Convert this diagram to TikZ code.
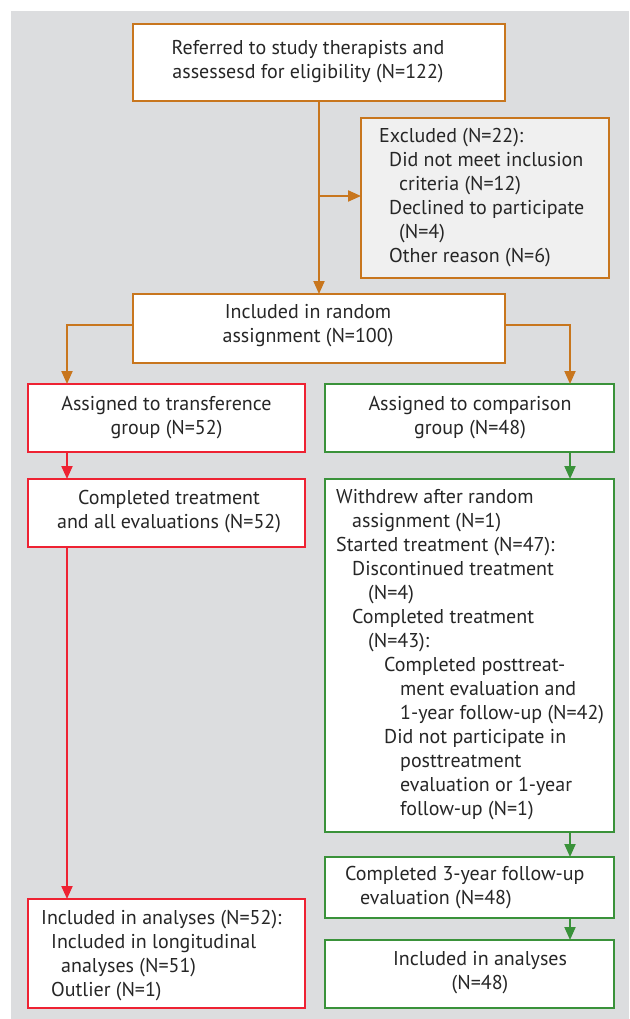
\documentclass[tikz,border=0pt]{standalone}
\usepackage{fontspec}
\setmainfont{PT Sans}
\usetikzlibrary{arrows.meta}
\definecolor{bggray}{HTML}{DCDDDF}
\definecolor{exfill}{HTML}{F0F0F0}
\definecolor{corange}{HTML}{C8761E}
\definecolor{cred}{HTML}{EE2233}
\definecolor{cgreen}{HTML}{3A923A}
\begin{document}
\begin{tikzpicture}[x=1pt,y=-1pt,
  box/.style={draw,line width=2.5pt,fill=white,minimum width=#1,inner sep=0pt,outer sep=0pt,anchor=center},
  txt/.style={font=\fontsize{20}{24}\selectfont,inner sep=0pt,text=black!85},
  conn/.style={line width=2pt,-{Triangle[length=13pt,width=11pt]}},
  ob/.style={draw=corange},
  rb/.style={draw=cred},
  gb/.style={draw=cgreen}]
\useasboundingbox (0,0) rectangle (629,1019);
\fill[white] (0,0) rectangle (629,1019);
\fill[bggray] (11,11) rectangle (629,1019);
% boxes
\node[box=372pt,ob,minimum height=77pt] (top) at (319,62.5) {};
\node[box=248pt,ob,fill=exfill,minimum height=160pt] (excl) at (485,198) {};
\node[box=372pt,ob,minimum height=69pt] (incl) at (319,328.5) {};
\node[box=277pt,rb,minimum height=68pt] (trans) at (166.5,418) {};
\node[box=289pt,gb,minimum height=68pt] (comp) at (469.5,418) {};
\node[box=277pt,rb,minimum height=68pt] (ctreat) at (166.5,513) {};
\node[box=289pt,gb,minimum height=353pt] (withdrew) at (469.5,655.5) {};
\node[box=277pt,rb,minimum height=109pt] (lanal) at (166.5,953.5) {};
\node[box=289pt,gb,minimum height=61pt] (cthree) at (469.5,887.5) {};
\node[box=289pt,gb,minimum height=68pt] (ranal) at (469.5,974) {};
% texts
\node[txt,align=center] (ttop) at (308,62) {Referred to study therapists and\\assessesd for eligibility (N=122)};
\node[txt,align=left,anchor=west] (texcl) at (379,198) {Excluded (N=22):\\\hspace*{10pt}Did not meet inclusion\\\hspace*{20pt}criteria (N=12)\\\hspace*{10pt}Declined to participate\\\hspace*{20pt}(N=4)\\\hspace*{10pt}Other reason (N=6)};
\node[txt,align=center] (tincl) at (308,326) {Included in random\\assignment (N=100)};
\node[txt,align=center] (ttrans) at (166.5,418) {Assigned to transference\\group (N=52)};
\node[txt,align=center] (tcomp) at (470,418) {Assigned to comparison\\group (N=48)};
\node[txt,align=center] (tctreat) at (169,512) {Completed treatment\\and all evaluations (N=52)};
\node[txt,align=left,anchor=west] (twithdrew) at (336,655) {Withdrew after random\\\hspace*{16pt}assignment (N=1)\\Started treatment (N=47):\\\hspace*{16pt}Discontinued treatment\\\hspace*{32pt}(N=4)\\\hspace*{16pt}Completed treatment\\\hspace*{32pt}(N=43):\\\hspace*{48pt}Completed posttreat-\\\hspace*{64pt}ment evaluation and\\\hspace*{64pt}1-year follow-up (N=42)\\\hspace*{48pt}Did not participate in\\\hspace*{64pt}posttreatment\\\hspace*{64pt}evaluation or 1-year\\\hspace*{64pt}follow-up (N=1)};
\node[txt,align=left,anchor=west] (tlanal) at (41,956) {Included in analyses (N=52):\\\hspace*{10pt}Included in longitudinal\\\hspace*{20pt}analyses (N=51)\\\hspace*{10pt}Outlier (N=1)};
\node[txt,align=left,anchor=west] (tcthree) at (345,888) {Completed 3-year follow-up\\\hspace*{15pt}evaluation (N=48)};
\node[txt,align=center] (tranal) at (480,973) {Included in analyses\\(N=48)};
% connectors
\coordinate (split) at (319,196);
\draw[conn,corange] (top.south) -- (incl.north);
\draw[conn,corange] (split) -- (excl.west |- split);
\draw[conn,corange] ([yshift=3.5pt]incl.west) -| ([xshift=39pt]trans.north west);
\draw[conn,corange] ([yshift=3.5pt]incl.east) -| ([xshift=-44pt]comp.north east);
\draw[conn,cred] ([xshift=39pt]trans.south west) -- ([xshift=39pt]ctreat.north west);
\draw[conn,cred] ([xshift=39pt]ctreat.south west) -- ([xshift=39pt]lanal.north west);
\draw[conn,cgreen] ([xshift=-44pt]comp.south east) -- ([xshift=-44pt]withdrew.north east);
\draw[conn,cgreen] ([xshift=-44pt]withdrew.south east) -- ([xshift=-44pt]cthree.north east);
\draw[conn,cgreen] ([xshift=-44pt]cthree.south east) -- ([xshift=-44pt]ranal.north east);
\end{tikzpicture}
\end{document}
